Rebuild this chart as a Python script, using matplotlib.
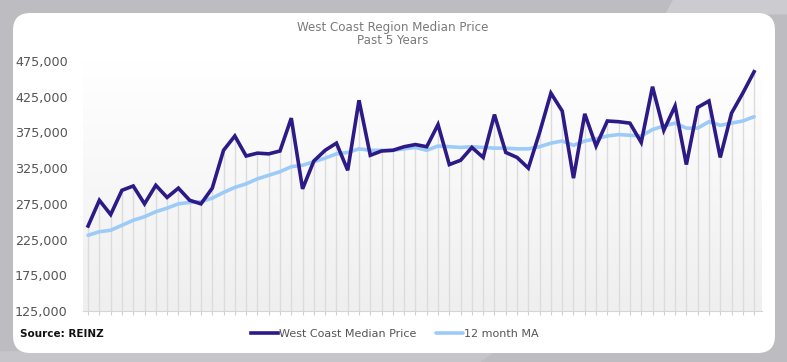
import numpy as np
import matplotlib.pyplot as plt
from matplotlib.colors import LinearSegmentedColormap
from matplotlib.patches import FancyBboxPatch, Polygon

plt.rcParams['font.family'] = ['DejaVu Sans']

# monthly values, 5 years
median_price = [
    244000, 280000, 260000, 294000, 300000, 275000, 301000, 284000, 297000, 280000,
    275000, 297000, 350000, 370000, 342000, 346000, 345000, 349000, 395000, 296000,
    335000, 350000, 360000, 322000, 420000, 343000, 349000, 350000, 355000, 358000,
    355000, 386000, 330000, 336000, 354000, 340000, 400000, 347000, 340000, 325000,
    375000, 430000, 405000, 311000, 401000, 356000, 391000, 390000, 388000, 361000,
    439000, 378000, 412000, 330000, 410000, 419000, 340000, 402000, 430000, 460000,
]
moving_avg = [
    231000, 236000, 238000, 245000, 252000, 257000, 264000, 269000, 275000, 277000,
    278000, 283000, 291000, 298000, 303000, 310000, 315000, 320000, 327000, 329000,
    334000, 339000, 345000, 347000, 352000, 350000, 350000, 350000, 352000, 354000,
    350000, 356000, 355000, 354000, 355000, 354000, 353000, 353000, 352000, 352000,
    355000, 360000, 363000, 357000, 363000, 366000, 370000, 372000, 371000, 370000,
    379000, 384000, 388000, 381000, 381000, 390000, 385000, 388000, 391000, 397000,
]
y_ticks = [125000, 175000, 225000, 275000, 325000, 375000, 425000, 475000]

purple = '#2d1a86'
light_blue = '#9dcbf7'

fig = plt.figure(figsize=(7.87, 3.62), dpi=100, facecolor='#bdbcc1')

# background shapes
fig.patches.append(Polygon([[0.855, 1.0], [0.845, 0.96], [1.0, 0.96], [1.0, 1.0]],
                           closed=True, transform=fig.transFigure,
                           facecolor='#cccbd0', edgecolor='none', zorder=0))
fig.patches.append(Polygon([[0.0, 0.0], [0.0, 0.03], [0.63, 0.03], [0.61, 0.0]],
                           closed=True, transform=fig.transFigure,
                           facecolor='#c6c5ca', edgecolor='none', zorder=0))
panel = FancyBboxPatch((13 / 787, 1 - 353 / 362), 762 / 787, 340 / 362,
                       boxstyle='round,pad=0,rounding_size=0.022',
                       transform=fig.transFigure, facecolor='white',
                       edgecolor='none', zorder=1, mutation_aspect=787 / 362)
fig.patches.append(panel)

ax = fig.add_axes([83 / 787, 1 - 311 / 362, (762 - 83) / 787, (311 - 61) / 362])
ax.set_zorder(3)
ax.set_facecolor('none')

x = np.arange(len(median_price))

# soft vertical gradient behind the data
grad = np.linspace(0, 1, 256).reshape(-1, 1)
ax.imshow(grad, extent=[0, 1, 0, 1], transform=ax.transAxes, aspect='auto',
          cmap=LinearSegmentedColormap.from_list('g', ['#efefef', '#ffffff']),
          origin='lower', zorder=0)

ax.vlines(x, y_ticks[0], median_price, color='#dcdcdc', lw=1, zorder=1)
ax.plot(x, moving_avg, color=light_blue, lw=2.6, zorder=2, label='12 month MA',
        solid_capstyle='round')
ax.plot(x, median_price, color=purple, lw=2.6, zorder=3,
        label='West Coast Median Price', solid_joinstyle='miter')

ax.set_xlim(-0.45, len(x) - 0.3)
ax.set_ylim(y_ticks[0], y_ticks[-1])
ax.set_yticks(y_ticks)
ax.set_yticklabels([f'{v:,}' for v in y_ticks])
ax.set_xticks(x)
ax.set_xticklabels([])
ax.tick_params(axis='x', length=3, color='#cfcfcf', width=0.8)
ax.tick_params(axis='y', length=0, pad=11, labelsize=9.2, labelcolor='#555555')
for s in ['top', 'right', 'left']:
    ax.spines[s].set_visible(False)
ax.spines['bottom'].set_color('#d5d5d5')
ax.spines['bottom'].set_linewidth(0.8)

fig.text(393 / 787, 1 - 34 / 362, 'West Coast Region Median Price\nPast 5 Years',
         ha='center', va='center', fontsize=8.6, color='#7a7a7a', linespacing=1.1,
         zorder=4)
fig.text(20 / 787, 1 - 334 / 362, 'Source: REINZ', ha='left', va='center',
         fontsize=7.5, fontweight='bold', color='#111111', zorder=4)

handles, labels = ax.get_legend_handles_labels()
leg = fig.legend(handles[::-1], labels[::-1], loc='center',
                 bbox_to_anchor=(395 / 787, 1 - 334 / 362),
                 ncol=2, frameon=False, fontsize=8, handlelength=2.4,
                 handletextpad=0.1, columnspacing=1.8, labelcolor='#555555')
leg.set_zorder(4)

fig.savefig('out.png', dpi=100, facecolor=fig.get_facecolor())
